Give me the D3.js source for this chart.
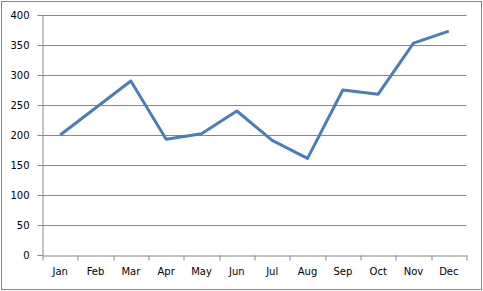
<!DOCTYPE html>
<html>
<head>
<meta charset="utf-8">
<script src="https://cdn.jsdelivr.net/npm/d3@7"></script>
<style>
  body { margin: 0; background: #fff; }
  text { font-family: "DejaVu Sans", Verdana, sans-serif; font-size: 10px; fill: #000; }
</style>
</head>
<body>
<script>
var months = ["Jan", "Feb", "Mar", "Apr", "May", "Jun", "Jul", "Aug", "Sep", "Oct", "Nov", "Dec"];
var values = [200, 245, 290, 193, 202, 240, 191, 161, 275, 268, 353, 373];
var yTicks = [0, 50, 100, 150, 200, 250, 300, 350, 400];

var W = 483, H = 291;
var margin = {top: 15, right: 16.5, bottom: 36, left: 42.5},
    width = W - margin.left - margin.right,
    height = H - margin.top - margin.bottom;

var svg = d3.select("body").append("svg")
    .attr("width", W)
    .attr("height", H);

// chart border
svg.append("rect")
    .attr("x", 1.5).attr("y", 1.5)
    .attr("width", W - 3).attr("height", H - 3)
    .attr("fill", "#fff")
    .attr("stroke", "#868686");

var g = svg.append("g")
    .attr("transform", "translate(" + margin.left + "," + margin.top + ")");

var x = d3.scaleBand().domain(months).range([0, width]);
var y = d3.scaleLinear().domain([0, 400]).range([height, 0]);

// gridlines
g.selectAll(".grid")
    .data(yTicks.slice(1))
    .enter().append("line")
    .attr("x1", 0).attr("x2", width)
    .attr("y1", function(d) { return Math.round(y(d)) + 0.5; })
    .attr("y2", function(d) { return Math.round(y(d)) + 0.5; })
    .attr("stroke", "#868686");

// y axis
var yAxis = g.append("g")
    .call(d3.axisLeft(y).tickValues(yTicks).tickSize(5).tickPadding(8));
yAxis.select(".domain").attr("stroke", "#868686");
yAxis.selectAll(".tick line").attr("stroke", "#868686");
yAxis.selectAll(".tick").attr("transform", function(d) {
  return "translate(0," + (Math.round(y(d)) + 0.5) + ")";
});

// x axis with ticks between categories
var xAxis = g.append("g")
    .attr("transform", "translate(0," + (height + 0.5) + ")")
    .call(d3.axisBottom(x).tickSize(0).tickPadding(12));
xAxis.select(".domain").attr("stroke", "#868686");
xAxis.selectAll(".tick text").attr("dy", "0.71em");

var bounds = months.map(function(m) { return x(m); }).concat([width]);
xAxis.selectAll(".sep")
    .data(bounds)
    .enter().append("line")
    .attr("x1", function(d) { return Math.round(d) + 0.5; })
    .attr("x2", function(d) { return Math.round(d) + 0.5; })
    .attr("y1", 0).attr("y2", 5)
    .attr("stroke", "#868686");

// series line
var line = d3.line()
    .x(function(d, i) { return x(months[i]) + x.bandwidth() / 2; })
    .y(function(d) { return y(d); });

g.append("path")
    .datum(values)
    .attr("d", line)
    .attr("fill", "none")
    .attr("stroke", "#4A7EBB")
    .attr("stroke-width", 3)
    .attr("stroke-linejoin", "round");
</script>
</body>
</html>
